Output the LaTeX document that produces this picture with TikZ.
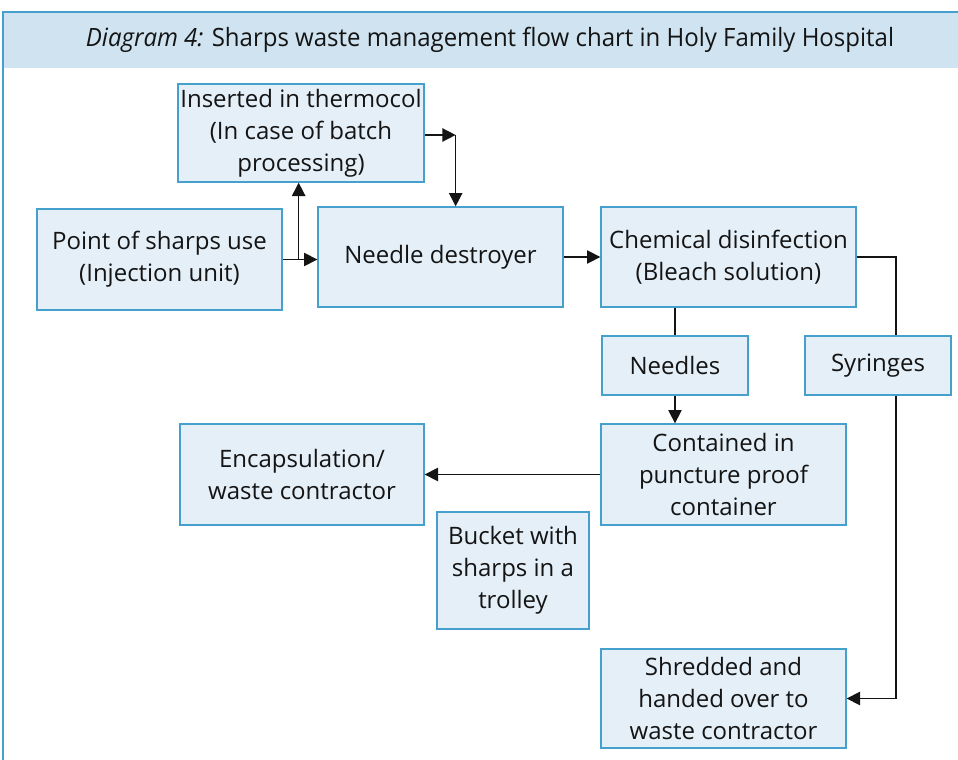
\documentclass[tikz,border=0pt]{standalone}
\usepackage{fontspec}
\usepackage{graphicx}
\setmainfont{Open Sans}
\usetikzlibrary{arrows.meta,calc}

\definecolor{boxfill}{RGB}{228,239,247}
\definecolor{boxline}{RGB}{70,160,205}
\definecolor{headfill}{RGB}{207,227,240}
\definecolor{ink}{RGB}{20,20,20}

\begin{document}
\begin{tikzpicture}[
  x=0.75pt, y=-0.75pt,
  box/.style={draw=boxline, fill=boxfill, line width=1pt, inner sep=0pt,
              align=center, text=ink, font=\fontsize{18}{24}\selectfont},
  link/.style={draw=ink, line width=1.1pt},
  arr/.style={link, -{Triangle[length=10pt,width=10pt]}}
]
\useasboundingbox (0,0) rectangle (958,760);

% frame and title band
\fill[headfill] (3,12) rectangle (958,68);
\draw[boxline, line width=1pt] (3,760) -- (3,12) -- (958,12);
\node[text=ink, font=\fontsize{18}{21}\selectfont] (title) at (490,40)
  {\scalebox{1}[1.05]{\textit{Diagram 4:} Sharps waste management flow chart in Holy Family Hospital}};

% process boxes
\node[box, minimum width=246*0.75pt, minimum height=98*0.75pt]  (therm)   at (301,133)
  {Inserted in thermocol\\(In case of batch\\processing)};
\node[box, minimum width=245*0.75pt, minimum height=101*0.75pt] (point)   at (159.5,259.5)
  {Point of sharps use\\(Injection unit)};
\node[box, minimum width=245*0.75pt, minimum height=100*0.75pt] (needle)  at (440.5,257)
  {Needle destroyer};
\node[box, minimum width=255*0.75pt, minimum height=100*0.75pt] (chem)    at (728.5,257)
  {Chemical disinfection\\(Bleach solution)};
\node[box, minimum width=146*0.75pt, minimum height=59*0.75pt]  (needles) at (675,365.5)
  {Needles};
\node[box, minimum width=146*0.75pt, minimum height=59*0.75pt]  (syr)     at (878,365.5)
  {Syringes};
\node[box, minimum width=245*0.75pt, minimum height=101*0.75pt] (cont)    at (723.5,474.5)
  {Contained in\\puncture proof\\container};
\node[box, minimum width=244*0.75pt, minimum height=101*0.75pt] (encap)   at (302,474.5)
  {Encapsulation/\\waste contractor};
\node[box, minimum width=152*0.75pt, minimum height=117*0.75pt] (bucket)  at (513,570.5)
  {Bucket with\\sharps in a\\trolley};
\node[box, minimum width=245*0.75pt, minimum height=99*0.75pt]  (shred)   at (723.5,698.5)
  {Shredded and\\handed over to\\waste contractor};

% connectors
\coordinate (br) at ($(point.east)+(16,0)$);
\draw[arr] (point.east) -- (point.east -| needle.west);
\draw[arr] (br) -- (br |- therm.south);
\coordinate (tc) at ($(therm.east)+(31,2)$);
\draw[arr] (therm.east |- tc) -- (tc);
\draw[arr] (tc) -- (tc |- needle.north);
\draw[arr] (needle.east) -- (chem.west);
% syringe branch runs right of the box centre
\coordinate (sy) at ($(syr.north |- chem.east)+(18,0)$);
\draw[link] (chem.east) -- (sy) -- (sy |- syr.north);
\draw[link] (needles.north |- chem.south) -- (needles.north);
\draw[arr] (needles.south) -- (needles.south |- cont.north);
\draw[arr] (cont.west) -- (encap.east);
\coordinate (sd) at ($(syr.south |- shred.east)+(18,0)$);
\draw[arr] (sd |- syr.south) -- (sd) -- (shred.east);
\end{tikzpicture}
\end{document}
